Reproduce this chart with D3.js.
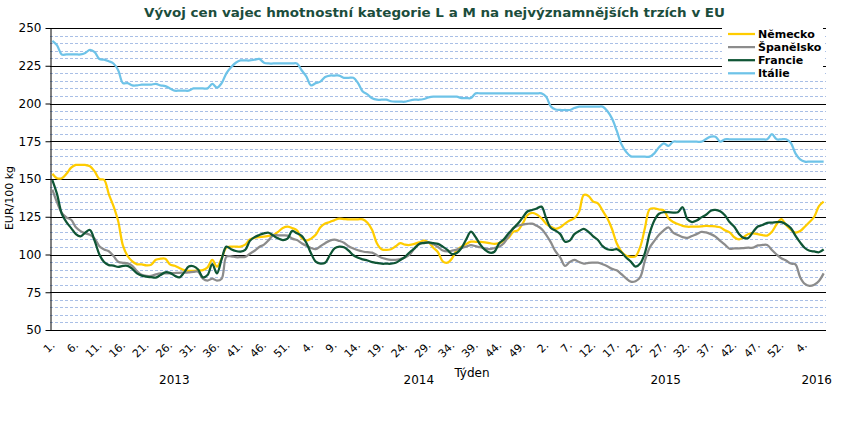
<!DOCTYPE html>
<html><head><meta charset="utf-8">
<script src="https://cdn.jsdelivr.net/npm/d3@7"></script>
<style>
html,body{margin:0;padding:0;background:#fff;}
svg{display:block;font-family:"DejaVu Sans",Verdana,sans-serif;}
</style></head>
<body><svg id="c" width="848" height="424"></svg>
<script>
const title = "Vývoj cen vajec hmotnostní kategorie  L a M na nejvýznamnějších  trzích  v EU";
const years = ["2013","2014","2015","2016"];
const weeksPerYear = [52,52,53,8];
const seriesNames = ["Německo","Španělsko","Francie","Itálie"];
const seriesColors = ["#FFCC00","#8C8C8C","#0F5535","#6EC3E8"];
const yTicks = [50,75,100,125,150,175,200,225,250];

const germany = [
153.5,150.5,150.5,153.5,157.5,159.3,159.3,159.3,158.5,155,
150,149.5,140,132,122,106,99,95.5,93.5,93.5,
92.8,93.2,96.5,97.2,97.2,93.5,92.5,91,89.7,89.2,
89.2,89.5,89.7,91.5,96.4,91.9,97.5,104.5,105.2,105.2,
105.2,106.5,110,111,111.5,111.8,112.3,112.9,115,117.5,
118.4,117.5,116,111,109.2,110.5,113,118,120.5,121.5,
122.8,123.7,123.5,123.3,123.3,123.3,123.3,121,116.2,107.5,
103.5,103,103.5,105.5,107.5,106.5,106.3,107,108,109.2,
108,104.5,101.5,95.5,94.6,97.5,103,105.2,107,
108.5,108.4,108.3,108,107.5,107,107.5,109.2,111,115,
116,120.5,126,127.5,126.5,124,120.5,118.4,117,118,
120.5,122.5,124,128.4,139.4,138.7,135,133.9,129,124,
116.9,107.4,101.9,99.2,98.5,98.8,105,117.5,130,130.6,
129.8,129.2,124,121.5,120.2,119,118.4,118.4,118.4,118.6,
118.9,118.8,118.6,118,116,114.7,111.4,110,111.5,113.6,
114,113.5,112.9,112.5,115.1,120,123.5,119.5,116.5,114.5,
115.5,118.4,121.5,125,132,135];

const spain = [
143,134.5,127.5,124.5,123,118,115.5,114,113,110.5,
105.5,103.3,102.2,99,95.2,94.5,94.2,92.5,89,86.5,
85.8,85.8,86.8,87.5,87.5,87.5,87.7,87.9,88,88.2,
88.5,88.6,84,82.7,84,82.7,84,98.5,98.8,98.2,
98.2,98.4,100.5,102.5,105,106.5,109.5,112.7,112.7,112.7,
112.5,110.5,109.6,107.5,105.8,104.3,103.6,105.5,107.5,109.2,
109.8,109,107.8,105.5,104,102.8,102,101.5,101.2,99.5,
97.8,97,96.5,96.4,97,98,100,104,107,107.8,
107.8,106.8,105,102.6,102,102.5,103.2,104.3,105.2,
106.2,105.5,104.8,104,103.6,104.3,105.2,107.5,112,117.3,
119,119.8,120.3,120.4,119,117,113,108,102,98,
92.5,95,96.4,95,93.9,94.5,94.6,94.6,93.5,92.2,
90.5,89.5,87,84.2,82,82.3,85,96,104.5,109,
113,116,118,114.5,112.9,111.5,111,112.3,113.5,115,
114.6,113.5,111.8,109,106.5,103.8,104,104.1,104.3,104.5,
104.5,106,106.3,106.3,103,100,97.5,96,94,93.5,
85,80.5,79.2,80,82.5,87.5];

const france = [
149.3,140,127,121.5,117.5,113.5,112,114.5,116.2,109,
100,95,93,92.6,91.8,92.5,92.5,90.5,87.5,86,
85.3,85,84.7,86.4,88.2,87.8,86,84.8,88,92,
92.2,90,84.9,86.4,93.7,87.5,97,105.2,103.5,102.3,
101.9,103,109,111.5,112.9,114,114.4,112.5,110.7,109.6,
110.5,115.6,114,112.3,107.8,100.8,95.3,94,94.5,99.5,
104,105.2,104.8,102.5,99.5,97.8,96.8,96,95,94.4,
93.9,93.9,93.9,94.5,96.4,98.5,101.5,104,107,107.6,
108,107.5,107,105.2,103,100.3,101,104.3,110,
115.1,111.5,106.5,103,101.2,101.8,107.5,110,114,117.3,
120.5,124.5,128.5,129.5,130.5,131.7,124,117.5,115.8,113.5,
108.5,109.2,113.5,115.5,116.9,115,112,109.6,105.5,103.5,
103,103.6,101.5,98,95.3,92,94,101,114,122.5,
127,128,128,127.8,128,131.3,123.5,121.5,122.5,124.6,
126.3,129,129.5,128.6,126,121.5,118.4,113.6,111,111,
115,118.5,119.5,121,121.1,121.5,121.4,120,117.5,112.5,
108,104.3,102.5,102,101.5,103.4];

const italy = [
241.5,238.5,232.5,232.5,232.5,232.5,232.5,233.5,235.5,234,
229.5,229,228,226.5,222,213.5,213.5,212,212,212.5,
212.5,212.5,213,212,211.5,210,208.5,208.5,208.5,208.5,
210,210,210,210,213,210.5,213.5,220,224,227,
228.5,228.5,228.5,229,229.5,227,226.5,226.5,226.5,226.5,
226.5,226.5,226.5,222,218,212,213.5,214.5,217.5,218.5,
218.5,218.5,217,217,217,213.5,208,206,203.5,202.5,
202.5,202.5,201.5,201.2,201.2,201.2,202,202.5,202.5,203,
204,204.5,204.5,204.5,204.5,204.5,204.5,203.6,203.6,
203.6,206.7,206.7,206.7,206.7,206.7,206.7,206.7,206.7,206.7,
206.7,206.7,206.7,206.7,206.7,206.7,204.5,198,196,195.7,
195.7,195.7,197,197.9,197.9,197.9,197.9,197.9,197.9,195,
190,182,173,168,165,164.8,164.8,164.8,164.8,167,
171,173.6,171.9,174.7,174.7,174.7,174.7,174.7,174.7,174.7,
176.5,178,178,174.7,176.3,176.3,176.3,176.3,176.3,176.3,
176.3,176.3,176.3,176.3,179.8,176.3,176.3,176.3,174,167,
163,161.5,161.5,161.5,161.5,161.5];

const seriesData = [germany, spain, france, italy];

// categories: one per week
const categories = [];
years.forEach((yr, yi) => { for (let w = 1; w <= weeksPerYear[yi]; w++) categories.push({year: yr, week: w}); });

const svg = d3.select("#c");
const L = 50, R = 826, T = 28, B = 330;
const x = d3.scalePoint().domain(d3.range(categories.length)).range([L, R]).padding(0.5);
const y = d3.scaleLinear().domain([50, 250]).range([B, T]);

// minor grid
const minor = d3.range(55, 250, 5).filter(v => v % 25 !== 0);
svg.append("g").selectAll("line").data(minor).join("line")
  .attr("x1", L).attr("x2", R).attr("y1", d => Math.round(y(d)) + 0.5).attr("y2", d => Math.round(y(d)) + 0.5)
  .attr("stroke", "#A9BFE6").attr("stroke-width", 1).attr("stroke-dasharray", "3,2");

// major grid
svg.append("g").selectAll("line").data(yTicks).join("line")
  .attr("x1", L).attr("x2", R).attr("y1", d => Math.round(y(d)) + 0.5).attr("y2", d => Math.round(y(d)) + 0.5)
  .attr("stroke", "#000").attr("stroke-width", 1);

// y axis
const yAxis = svg.append("g").attr("transform", `translate(${L + 0.5},0)`)
  .call(d3.axisLeft(y).tickValues(yTicks).tickSize(5).tickPadding(4).tickSizeOuter(0));
yAxis.select(".domain").attr("stroke", "#000");
yAxis.selectAll(".tick line").attr("stroke", "#000");
yAxis.selectAll(".tick text").attr("font-size", 12).attr("fill", "#000").attr("font-family", "DejaVu Sans");

// x axis labels
const tickIdx = d3.range(0, categories.length, 5);
svg.append("g").selectAll("text").data(tickIdx).join("text")
  .attr("transform", d => `translate(${x(d) + 3},${B + 16}) rotate(-45)`)
  .attr("text-anchor", "end").attr("font-size", 11).attr("fill", "#000")
  .text(d => categories[d].week + ".");

// year labels
let start = 0;
const yearPos = years.map((yr, yi) => { const s = start, e = start + weeksPerYear[yi] - 1; start += weeksPerYear[yi]; return {yr, c: (x(s) + x(e)) / 2, last: yi === years.length - 1}; });
svg.append("g").selectAll("text").data(yearPos).join("text")
  .attr("x", d => d.last ? R + 6 : d.c + 2).attr("y", 384)
  .attr("text-anchor", d => d.last ? "end" : "middle").attr("font-size", 12).attr("fill", "#000")
  .text(d => d.yr);

svg.append("text").attr("x", 472).attr("y", 377).attr("text-anchor", "middle").attr("font-size", 12).text("Týden");

svg.append("text").attr("transform", "translate(13,198) rotate(-90)").attr("text-anchor", "middle")
  .attr("font-size", 11).text("EUR/100 kg");

// lines
const line = d3.line().x((d, i) => x(i)).y(d => y(d)).curve(d3.curveCatmullRom.alpha(0.5));
svg.append("g").selectAll("path").data(seriesData).join("path")
  .attr("d", d => line(d)).attr("fill", "none")
  .attr("stroke", (d, i) => seriesColors[i]).attr("stroke-width", 2.25).attr("stroke-linejoin", "round");

// legend
const lg = svg.append("g");
lg.append("rect").attr("x", 722).attr("y", 27).attr("width", 101).attr("height", 51).attr("fill", "#fff");
seriesNames.forEach((n, i) => {
  const cy = 34 + i * 13.1;
  lg.append("line").attr("x1", 728).attr("x2", 755).attr("y1", cy).attr("y2", cy)
    .attr("stroke", seriesColors[i]).attr("stroke-width", 2.25);
  lg.append("text").attr("x", 758).attr("y", cy + 4).attr("font-size", 11).attr("font-weight", "bold")
    .attr("fill", "#000").text(n);
});

// title
svg.append("text").attr("x", 434.5).attr("y", 17).attr("text-anchor", "middle")
  .attr("font-size", 12.5).attr("font-weight", "bold").attr("fill", "#1B4D3C")
  .attr("textLength", 581).attr("lengthAdjust", "spacingAndGlyphs").text(title);
</script></body></html>
